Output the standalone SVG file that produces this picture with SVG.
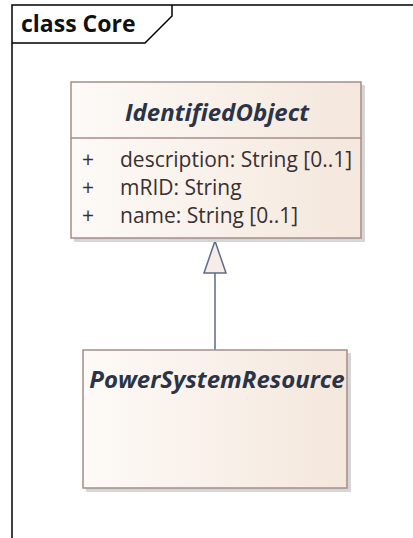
<svg xmlns="http://www.w3.org/2000/svg" width="413" height="538" viewBox="0 0 413 538">
  <defs>
    <linearGradient id="classFill" x1="0" y1="0" x2="1" y2="0">
      <stop offset="0" stop-color="#fdfaf7"/>
      <stop offset="1" stop-color="#f4e7dc"/>
    </linearGradient>
    <style>
      .frame { fill: none; stroke: #000; stroke-width: 1.5; }
      .shadow { fill: #d6d6d6; }
      .box { fill: url(#classFill); stroke: #a58d8b; stroke-width: 1.5; }
      .sep { stroke: #a58d8b; stroke-width: 1.5; }
      .title { font-family: "Open Sans", "Noto Sans", sans-serif; font-weight: bold; font-style: italic; font-size: 24px; fill: #2b3446; text-anchor: middle; }
      .attr { font-family: "Open Sans", "Noto Sans", sans-serif; font-size: 21px; fill: #3a3030; }
      .frameLabel { font-family: "Open Sans", "Noto Sans", sans-serif; font-weight: bold; font-size: 23px; fill: #111; }
      .edge { fill: none; stroke: #5d6b88; stroke-width: 1.5; }
      .head { fill: #f6ece8; stroke: #5d6b88; stroke-width: 1.5; }
    </style>
  </defs>

  <!-- package frame with name tab -->
  <g id="frame">
    <path class="frame" d="M12,540 V5 H420"/>
    <path class="frame" d="M12,43 H145 L172,16 V5"/>
    <text class="frameLabel" x="21" y="32">class Core</text>
  </g>

  <!-- connectors -->
  <g id="connectors">
    <line class="edge" x1="215" y1="273" x2="215" y2="350"/>
    <polygon class="head" points="215,241 204,273 226,273"/>
  </g>

  <!-- IdentifiedObject class -->
  <g id="IdentifiedObject">
    <rect class="shadow" x="74" y="85" width="291" height="157"/>
    <rect class="box" x="71" y="82" width="290" height="156"/>
    <line class="sep" x1="71" y1="138" x2="361" y2="138"/>
    <text class="title" x="217" y="121">IdentifiedObject</text>
    <text class="attr" x="82" y="167">+</text>
    <text class="attr" x="120" y="167">description: String [0..1]</text>
    <text class="attr" x="82" y="195">+</text>
    <text class="attr" x="120" y="195">mRID: String</text>
    <text class="attr" x="82" y="223">+</text>
    <text class="attr" x="120" y="223">name: String [0..1]</text>
  </g>

  <!-- PowerSystemResource class -->
  <g id="PowerSystemResource">
    <rect class="shadow" x="86" y="353" width="265" height="139"/>
    <rect class="box" x="83" y="350" width="264" height="138"/>
    <text class="title" x="217" y="388">PowerSystemResource</text>
  </g>
</svg>
